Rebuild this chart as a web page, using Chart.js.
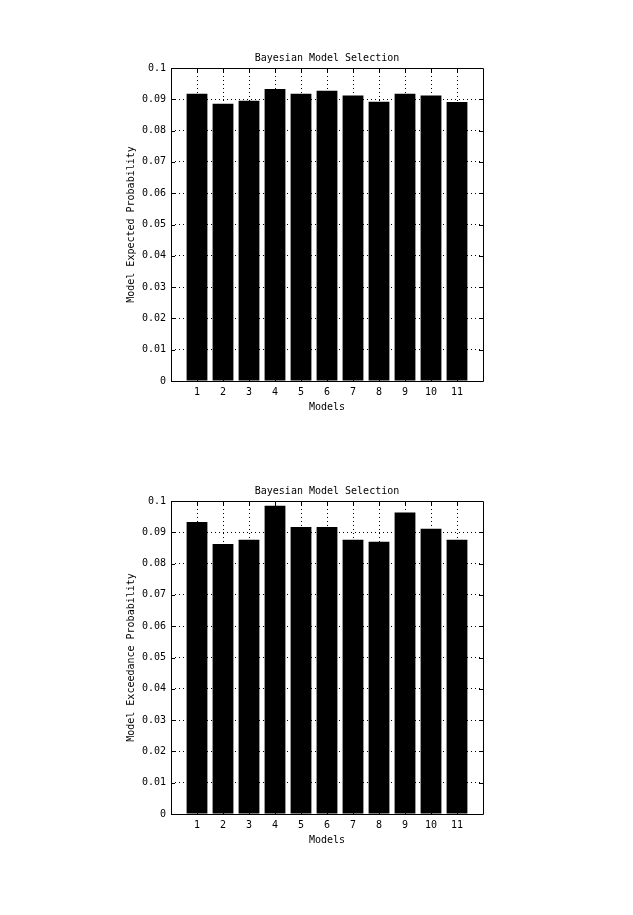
<!DOCTYPE html>
<html>
<head>
<meta charset="utf-8">
<script src="https://cdn.jsdelivr.net/npm/chart.js@4/dist/chart.umd.min.js"></script>
<style>
  html, body { margin: 0; padding: 0; background: #fff; }
  .wrap { position: absolute; left: 0; width: 633px; height: 433px; }
  canvas { display: block; }
</style>
</head>
<body>
<div class="wrap" style="top:0"><canvas id="c1" width="633" height="433"></canvas></div>
<div class="wrap" style="top:433px"><canvas id="c2" width="633" height="433"></canvas></div>
<script>
const models = [1, 2, 3, 4, 5, 6, 7, 8, 9, 10, 11];
const expectedProb = [0.0918, 0.0886, 0.0895, 0.0933, 0.0918, 0.0927, 0.0912, 0.0892, 0.0918, 0.0912, 0.0891];
const exceedanceProb = [0.0933, 0.0863, 0.0876, 0.0985, 0.0917, 0.0917, 0.0876, 0.0870, 0.0963, 0.0911, 0.0876];
const yTicks = [0, 0.01, 0.02, 0.03, 0.04, 0.05, 0.06, 0.07, 0.08, 0.09, 0.1];
const chartTitle = 'Bayesian Model Selection';
const xTitle = 'Models';
const yTitles = ['Model Expected Probability', 'Model Exceedance Probability'];

const FONT = { family: '"DejaVu Sans Mono", monospace', size: 10, weight: 'normal' };

const boxPlugin = {
  id: 'boxPlugin',
  afterDatasetsDraw(chart) {
    const { ctx, chartArea: a, scales } = chart;
    ctx.save();
    ctx.strokeStyle = '#000';
    ctx.lineWidth = 1;
    ctx.setLineDash([]);
    ctx.beginPath();
    ctx.rect(Math.round(a.left) + 0.5, Math.round(a.top) + 0.5,
             Math.round(a.right - a.left), Math.round(a.bottom - a.top));
    ctx.stroke();
    const tl = 4;
    ctx.beginPath();
    models.forEach(v => {
      const x = Math.round(scales.x.getPixelForValue(v)) + 0.5;
      ctx.moveTo(x, a.bottom); ctx.lineTo(x, a.bottom - tl);
      ctx.moveTo(x, a.top); ctx.lineTo(x, a.top + tl);
    });
    yTicks.forEach(v => {
      const y = Math.round(scales.y.getPixelForValue(v)) + 0.5;
      ctx.moveTo(a.left, y); ctx.lineTo(a.left + tl, y);
      ctx.moveTo(a.right, y); ctx.lineTo(a.right - tl, y);
    });
    ctx.stroke();
    ctx.restore();
  }
};

function makeChart(id, values, yTitle) {
  return new Chart(document.getElementById(id), {
    type: 'bar',
    data: {
      datasets: [{
        data: models.map((m, i) => ({ x: m, y: values[i] })),
        backgroundColor: '#000',
        borderWidth: 0,
        barPercentage: 0.8,
        categoryPercentage: 1.0
      }]
    },
    options: {
      responsive: false,
      animation: false,
      devicePixelRatio: 1,
      layout: { padding: { left: 119, right: 150, top: 0, bottom: 20 } },
      plugins: {
        legend: { display: false },
        tooltip: { enabled: false },
        title: {
          display: true,
          text: chartTitle,
          fullSize: false,
          color: '#000',
          font: FONT,
          padding: { top: 52, bottom: 4 }
        }
      },
      scales: {
        x: {
          type: 'linear',
          offset: false,
          min: 0, max: 12,
          afterBuildTicks: s => { s.ticks = models.map(v => ({ value: v })); },
          afterFit: s => { s.height = 32; },
          ticks: { color: '#000', font: FONT, padding: 5, maxRotation: 0, autoSkip: false,
                   callback: v => String(v) },
          grid: { color: '#000', lineWidth: 1, drawTicks: false, offset: false },
          border: { display: false, dash: [1, 3] },
          title: { display: true, text: xTitle, color: '#000', font: FONT, padding: { top: 0, bottom: 0 } }
        },
        y: {
          type: 'linear',
          min: 0, max: 0.1,
          afterBuildTicks: s => { s.ticks = yTicks.map(v => ({ value: v })); },
          afterFit: s => { s.width = 52; },
          ticks: { color: '#000', font: FONT, padding: 5,
                   callback: v => String(+v.toFixed(2)) },
          grid: { color: '#000', lineWidth: 1, drawTicks: false },
          border: { display: false, dash: [1, 3] },
          title: { display: true, text: yTitle, color: '#000', font: FONT, padding: { top: 6, bottom: 0 } }
        }
      }
    },
    plugins: [boxPlugin]
  });
}

makeChart('c1', expectedProb, yTitles[0]);
makeChart('c2', exceedanceProb, yTitles[1]);
</script>
</body>
</html>
